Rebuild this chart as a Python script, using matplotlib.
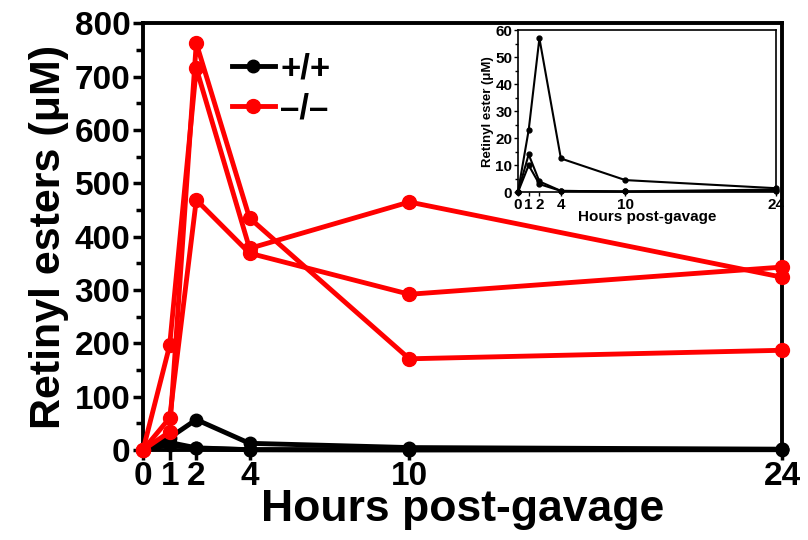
import matplotlib
matplotlib.use("Agg")
import matplotlib.pyplot as plt

hours = [0, 1, 2, 4, 10, 24]
x_ticks = [0, 1, 2, 4, 10, 24]

ko_1 = [0, 34, 763, 435, 171, 187]
ko_2 = [0, 196, 716, 378, 465, 324]
ko_3 = [0, 60, 469, 369, 292, 343]

wt_1 = [0, 23, 57, 12.5, 4.5, 1.5]
wt_2 = [0, 14, 4, 0.5, 0.3, 0.5]
wt_3 = [0, 10, 3, 0.5, 0.3, 1.0]

ko_series = [ko_1, ko_2, ko_3]
wt_series = [wt_1, wt_2, wt_3]

plt.rcParams['font.family'] = ['Liberation Sans', 'DejaVu Sans']
plt.rcParams['font.weight'] = 'bold'

fig = plt.figure(figsize=(8.08, 5.4), dpi=100)
ax = fig.add_axes([0.177, 0.1667, 0.791, 0.790])

red = '#ff0000'
for i, s in enumerate(wt_series):
    ax.plot(hours, s, color='black', lw=3.5, marker='o', ms=9, clip_on=False,
            zorder=3, label='+/+' if i == 0 else None)
for i, s in enumerate(ko_series):
    ax.plot(hours, s, color=red, lw=3.5, marker='o', ms=10, clip_on=False,
            zorder=4, label='\u2013/\u2013' if i == 0 else None)

ax.set_xlim(0, 24)
ax.set_ylim(0, 800)
ax.set_xticks(x_ticks)
ax.set_yticks(range(0, 801, 100))
ax.set_yticks(range(50, 800, 100), minor=True)
ax.tick_params(axis='both', which='major', direction='out', width=2.5, length=7,
               labelsize=24, pad=2)
ax.tick_params(axis='y', which='minor', direction='out', width=2.5, length=5)
ax.tick_params(axis='x', pad=1)
for lab in ax.get_xticklabels() + ax.get_yticklabels():
    lab.set_fontweight('bold')
for sp in ax.spines.values():
    sp.set_linewidth(2.8)
ax.set_xlabel('Hours post-gavage', fontsize=32, fontweight='bold', labelpad=-2)
ax.set_ylabel('Retinyl esters (\u03bcM)', fontsize=31, fontweight='bold', labelpad=4)

leg = ax.legend(loc='upper left', bbox_to_anchor=(0.09, 1.005), frameon=False,
                handlelength=1.25, handletextpad=0.15, labelspacing=0.2,
                prop={'weight': 'bold', 'size': 25})

# inset
ins = fig.add_axes([0.641, 0.644, 0.319, 0.300])
for s in wt_series:
    ins.plot(hours, s, color='black', lw=1.5, marker='o', ms=3.5, clip_on=False)
ins.set_xlim(0, 24)
ins.set_ylim(0, 60)
ins.set_xticks(x_ticks)
ins.set_yticks(range(0, 61, 10))
ins.set_yticks(range(5, 60, 10), minor=True)
ins.tick_params(axis='both', which='major', direction='out', width=1, length=3,
                labelsize=11, pad=1)
ins.tick_params(axis='y', which='minor', direction='out', width=1, length=2)
for lab in ins.get_xticklabels() + ins.get_yticklabels():
    lab.set_fontweight('bold')
for sp in ins.spines.values():
    sp.set_linewidth(1.2)
ins.set_xlabel('Hours post-gavage', fontsize=11, fontweight='bold', labelpad=-1)
ins.set_ylabel('Retinyl ester (\u03bcM)', fontsize=9.5, fontweight='bold', labelpad=1)

fig.savefig('out.png', dpi=100)
